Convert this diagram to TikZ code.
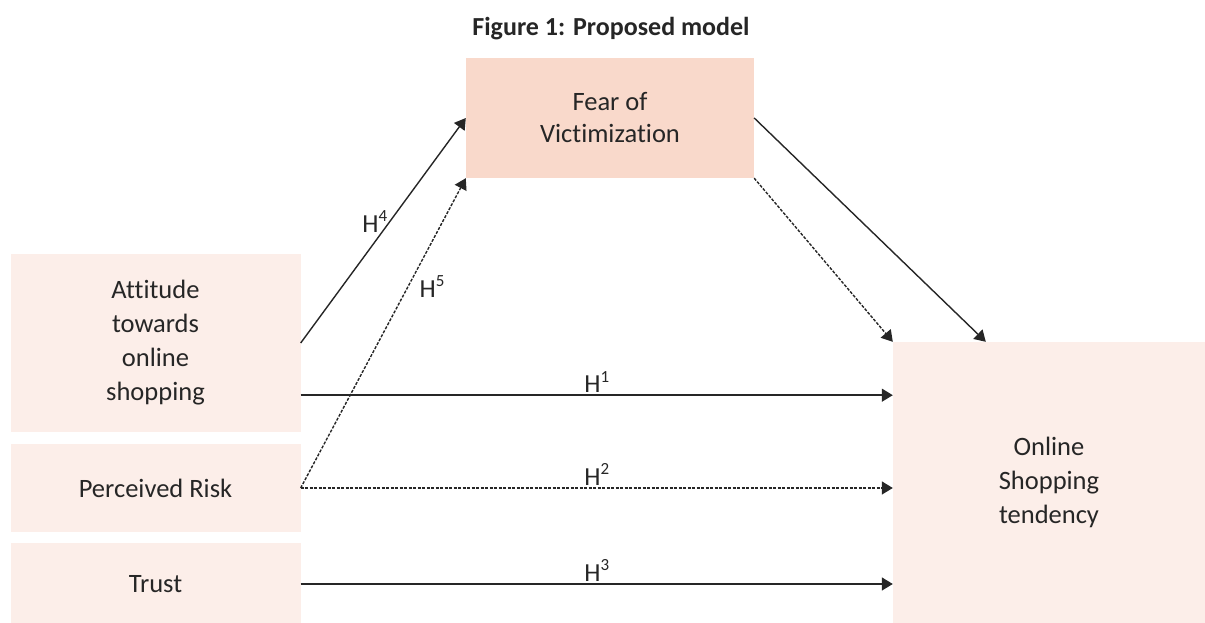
\documentclass[tikz,border=0pt]{standalone}
\usepackage{fontspec}
\setmainfont{Carlito}[Ligatures=NoCommon]
\usetikzlibrary{arrows.meta,calc}
\definecolor{fearfill}{HTML}{F9D9CB}
\definecolor{boxfill}{HTML}{FCEEE9}
\definecolor{ink}{HTML}{262626}
\newcommand{\hyp}[1]{H\raisebox{0.40em}{\fontsize{17}{17}\selectfont #1}}
\begin{document}
\begin{tikzpicture}[x=1pt,y=1pt,
  every node/.style={text=ink},
  box/.style={fill=boxfill, draw=none, inner sep=0pt, align=center,
    font=\fontsize{26.5}{34}\selectfont},
  fearbox/.style={box, fill=fearfill, font=\fontsize{26.5}{32}\selectfont},
  link/.style={draw=ink, line width=1.4pt, -{Triangle[length=11pt,width=13pt]}},
  dlink/.style={link, dash pattern=on 3pt off 1.5pt},
  hlab/.style={font=\fontsize{26}{26}\selectfont, inner sep=2pt}]
\useasboundingbox (0,0) rectangle (1205,623);
\node[font=\fontsize{26}{30}\selectfont\bfseries] (title) at (611,594) {Figure 1: Proposed model};
\node[fearbox, minimum width=288, minimum height=120] (fear) at (610,505) {Fear of\\Victimization};
\node[box, minimum width=290, minimum height=178] (att) at (155.5,280) {Attitude\\towards\\online\\shopping};
\node[box, minimum width=290, minimum height=88] (risk) at (155.5,135) {Perceived Risk};
\node[box, minimum width=290, minimum height=82] (trust) at (155.5,39) {Trust};
\node[box, minimum width=312, minimum height=281] (ost) at (1049,140.5) {Online\\Shopping\\tendency};
\coordinate (a1) at ($(att.south east)+(0,37)$);
\coordinate (ftip) at ($(ost.north west)+(93,0)$);
\draw[link] (att.east) -- node[hlab, pos=0.54, anchor=east] {\hyp{4}} (fear.west);
\draw[dlink] (risk.east) -- node[hlab, pos=0.65, anchor=west, xshift=9pt] {\hyp{5}} (fear.south west);
\draw[link] (fear.east) -- (ftip);
\draw[dlink] (fear.south east) -- (ost.north west);
\draw[link] (a1) -- node[hlab, above] {\hyp{1}} (ost.west |- a1);
\draw[dlink] (risk.east) -- node[hlab, above] {\hyp{2}} (ost.west |- risk.east);
\draw[link] (trust.east) -- node[hlab, above] {\hyp{3}} (ost.west |- trust.east);
\end{tikzpicture}
\end{document}
